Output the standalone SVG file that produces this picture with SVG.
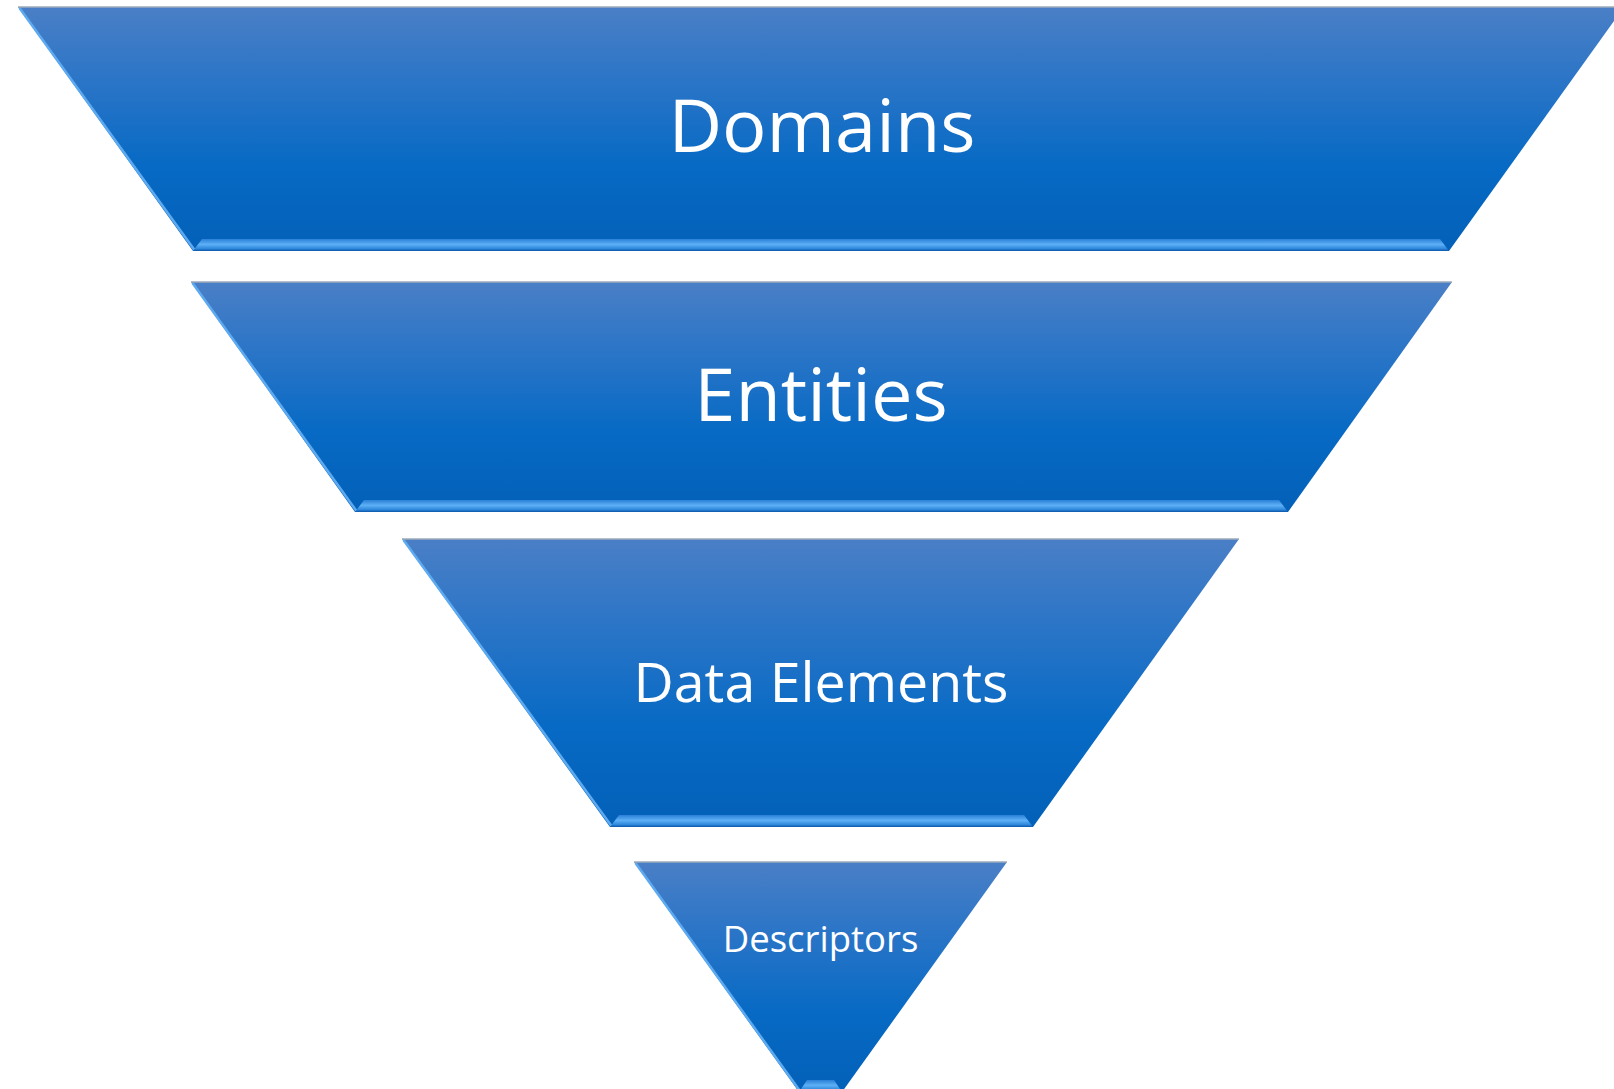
<svg xmlns="http://www.w3.org/2000/svg" width="1614" height="1089" viewBox="0 0 1614 1089">
<defs>
<linearGradient id="body" x1="0" y1="0" x2="0" y2="1">
<stop offset="0" stop-color="#4a7fc6"/>
<stop offset="0.3" stop-color="#2b75c7"/>
<stop offset="0.65" stop-color="#076ac4"/>
<stop offset="1" stop-color="#0360b8"/>
</linearGradient>
<linearGradient id="bevel" x1="0" y1="0" x2="0" y2="1">
<stop offset="0" stop-color="#2a80d6"/>
<stop offset="0.45" stop-color="#5db0f6"/>
<stop offset="0.8" stop-color="#2f88dc"/>
<stop offset="1" stop-color="#0b56a8"/>
</linearGradient>
<style>
.body{fill:url(#body);}
.bevel{fill:url(#bevel);}
.top{stroke:#9eaabb;stroke-width:1.5;fill:none;}
.hl{stroke:#5eaaf0;stroke-width:2.5;fill:none;}
.lbl{fill:#ffffff;font-family:"Open Sans","Noto Sans","Liberation Sans",sans-serif;text-anchor:middle;}
</style>
</defs>
<rect width="1614" height="1089" fill="#ffffff"/>
<g id="domains">
<polygon class="body" points="18,7 1624,7 1449,251 193,251"/>
<line class="hl" x1="19.5" y1="8" x2="194.5" y2="250"/>
<polygon class="bevel" points="193,251 1449,251 1440,239 202,239"/>
<line class="top" x1="18" y1="7" x2="1614" y2="7"/>
<text class="lbl" x="822" y="152" font-size="74">Domains</text>
</g>
<g id="entities">
<polygon class="body" points="191,282 1452,282 1288,512 355,512"/>
<line class="hl" x1="192.5" y1="283" x2="356.5" y2="511"/>
<polygon class="bevel" points="355,512 1288,512 1279,500 364,500"/>
<line class="top" x1="191" y1="282" x2="1452" y2="282"/>
<text class="lbl" x="821" y="421" font-size="74">Entities</text>
</g>
<g id="data-elements">
<polygon class="body" points="402,539 1239,539 1033,827 610,827"/>
<line class="hl" x1="403.5" y1="540" x2="611.5" y2="826"/>
<polygon class="bevel" points="610,827 1033,827 1024,815 619,815"/>
<line class="top" x1="402" y1="539" x2="1239" y2="539"/>
<text class="lbl" x="821" y="702" font-size="55.5">Data Elements</text>
</g>
<g id="descriptors">
<polygon class="body" points="634,862 1007,862 842,1092 799,1092"/>
<line class="hl" x1="635.5" y1="863" x2="800" y2="1091"/>
<polygon class="bevel" points="799,1092 842,1092 834,1080 807,1080"/>
<line class="top" x1="634" y1="862" x2="1007" y2="862"/>
<text class="lbl" x="820.5" y="952" font-size="36.5">Descriptors</text>
</g>
<g id="connectors"></g>
</svg>
